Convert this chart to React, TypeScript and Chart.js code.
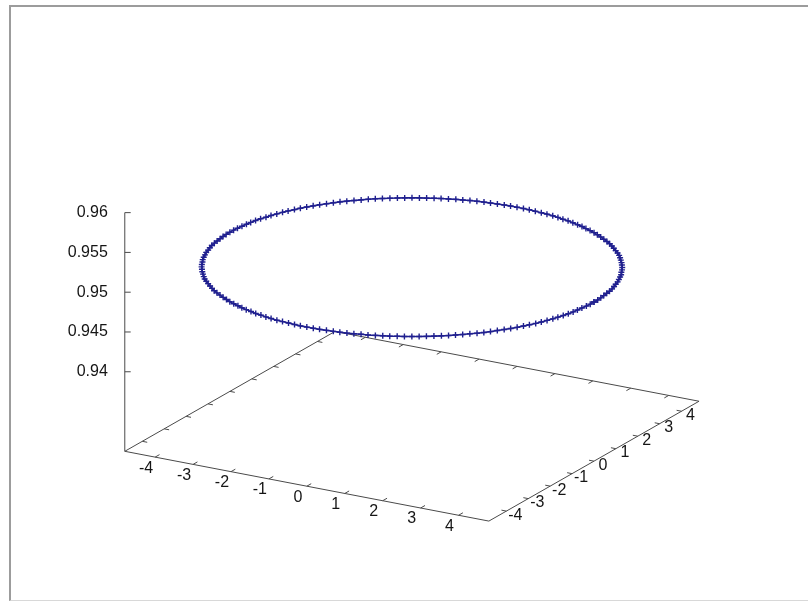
import React, { useEffect, useRef } from 'react';
import { Chart, registerables } from 'chart.js';

Chart.register(...registerables);

// ---------- data ----------
const X_TICKS = [-4, -3, -2, -1, 0, 1, 2, 3, 4];
const Y_TICKS = [-4, -3, -2, -1, 0, 1, 2, 3, 4];
const Z_TICKS = [0.94, 0.945, 0.95, 0.955, 0.96];
const Z_TICK_LABELS = ['0.94', '0.945', '0.95', '0.955', '0.96'];
const X_RANGE = [-4.8, 4.8];
const Y_RANGE = [-4.8, 4.8];
const Z_RANGE = [0.94, 0.96];
const CIRCLE_Z = 0.95;

const CIRCLE_X = [
  4.8, 4.8, 4.79, 4.77, 4.75, 4.73, 4.7, 4.66, 4.61, 4.57, 4.51, 4.45, 4.39, 4.31, 4.24, 4.16, 4.07, 3.98, 3.88, 3.78, 3.68, 3.57, 3.45, 3.33, 3.21, 3.09, 2.96, 2.82, 2.68, 2.54, 2.4, 2.25, 2.1, 1.95, 1.8, 1.64, 1.48, 1.32, 1.16, 1.0, 0.83, 0.67, 0.5, 0.33, 0.17,
  0, -0.17, -0.33, -0.5, -0.67, -0.83, -1.0, -1.16, -1.32, -1.48, -1.64, -1.8, -1.95, -2.1, -2.25, -2.4, -2.54, -2.68, -2.82, -2.96, -3.09, -3.21, -3.33, -3.45, -3.57, -3.68, -3.78, -3.88, -3.98, -4.07, -4.16, -4.24, -4.31, -4.39, -4.45, -4.51, -4.57, -4.61, -4.66, -4.7, -4.73, -4.75, -4.77, -4.79, -4.8,
  -4.8, -4.8, -4.79, -4.77, -4.75, -4.73, -4.7, -4.66, -4.61, -4.57, -4.51, -4.45, -4.39, -4.31, -4.24, -4.16, -4.07, -3.98, -3.88, -3.78, -3.68, -3.57, -3.45, -3.33, -3.21, -3.09, -2.96, -2.82, -2.68, -2.54, -2.4, -2.25, -2.1, -1.95, -1.8, -1.64, -1.48, -1.32, -1.16, -1.0, -0.83, -0.67, -0.5, -0.33, -0.17,
  0, 0.17, 0.33, 0.5, 0.67, 0.83, 1.0, 1.16, 1.32, 1.48, 1.64, 1.8, 1.95, 2.1, 2.25, 2.4, 2.54, 2.68, 2.82, 2.96, 3.09, 3.21, 3.33, 3.45, 3.57, 3.68, 3.78, 3.88, 3.98, 4.07, 4.16, 4.24, 4.31, 4.39, 4.45, 4.51, 4.57, 4.61, 4.66, 4.7, 4.73, 4.75, 4.77, 4.79, 4.8,
  4.8,
];
const CIRCLE_Y = [
  0, 0.17, 0.33, 0.5, 0.67, 0.83, 1.0, 1.16, 1.32, 1.48, 1.64, 1.8, 1.95, 2.1, 2.25, 2.4, 2.54, 2.68, 2.82, 2.96, 3.09, 3.21, 3.33, 3.45, 3.57, 3.68, 3.78, 3.88, 3.98, 4.07, 4.16, 4.24, 4.31, 4.39, 4.45, 4.51, 4.57, 4.61, 4.66, 4.7, 4.73, 4.75, 4.77, 4.79, 4.8,
  4.8, 4.8, 4.79, 4.77, 4.75, 4.73, 4.7, 4.66, 4.61, 4.57, 4.51, 4.45, 4.39, 4.31, 4.24, 4.16, 4.07, 3.98, 3.88, 3.78, 3.68, 3.57, 3.45, 3.33, 3.21, 3.09, 2.96, 2.82, 2.68, 2.54, 2.4, 2.25, 2.1, 1.95, 1.8, 1.64, 1.48, 1.32, 1.16, 1.0, 0.83, 0.67, 0.5, 0.33, 0.17,
  0, -0.17, -0.33, -0.5, -0.67, -0.83, -1.0, -1.16, -1.32, -1.48, -1.64, -1.8, -1.95, -2.1, -2.25, -2.4, -2.54, -2.68, -2.82, -2.96, -3.09, -3.21, -3.33, -3.45, -3.57, -3.68, -3.78, -3.88, -3.98, -4.07, -4.16, -4.24, -4.31, -4.39, -4.45, -4.51, -4.57, -4.61, -4.66, -4.7, -4.73, -4.75, -4.77, -4.79, -4.8,
  -4.8, -4.8, -4.79, -4.77, -4.75, -4.73, -4.7, -4.66, -4.61, -4.57, -4.51, -4.45, -4.39, -4.31, -4.24, -4.16, -4.07, -3.98, -3.88, -3.78, -3.68, -3.57, -3.45, -3.33, -3.21, -3.09, -2.96, -2.82, -2.68, -2.54, -2.4, -2.25, -2.1, -1.95, -1.8, -1.64, -1.48, -1.32, -1.16, -1.0, -0.83, -0.67, -0.5, -0.33, -0.17,
  0,
];

// ---------- view / layout ----------
const W = 808;
const H = 606;
const ORIGIN = { x: 121, y: 454 }; // screen spot of (xmin, ymin, base)
const UX = { x: 38.44, y: 7.4 }; // screen step per x unit
const UY = { x: 22.19, y: -12.71 }; // screen step per y unit
const UZ = 8100; // screen step per z unit (upwards)
const TICS_LEVEL = 0.5;
const Z_BASE = Z_RANGE[0] - TICS_LEVEL * (Z_RANGE[1] - Z_RANGE[0]);
const X_TIC_LEN = 0.2; // in y units
const Y_TIC_LEN = 0.13; // in x units
const Z_TIC_LEN = 6;

const AXIS_COLOR = '#4a4a4a';
const SERIES_COLOR = '#20208f';
const TEXT_COLOR = '#151515';
const FONT = '16px "Liberation Sans", Arial, sans-serif';

type P = { x: number; y: number | null };

function project(x: number, y: number, z: number): P {
  const dx = x - X_RANGE[0];
  const dy = y - Y_RANGE[0];
  return {
    x: ORIGIN.x + dx * UX.x + dy * UY.x,
    y: ORIGIN.y + dx * UX.y + dy * UY.y - (z - Z_BASE) * UZ,
  };
}

const GAP: P = { x: 0, y: null };

function boxData(): P[] {
  const [x0, x1] = X_RANGE;
  const [y0, y1] = Y_RANGE;
  const fl = project(x0, y0, Z_BASE);
  return [
    fl,
    project(x1, y0, Z_BASE),
    project(x1, y1, Z_BASE),
    project(x0, y1, Z_BASE),
    fl,
    GAP,
    fl,
    project(x0, y0, Z_RANGE[1]),
  ];
}

function tickData(): P[] {
  const out: P[] = [];
  const [x0, x1] = X_RANGE;
  const [y0, y1] = Y_RANGE;
  X_TICKS.forEach((v) => {
    out.push(project(v, y0, Z_BASE), project(v, y0 + X_TIC_LEN, Z_BASE), GAP);
    out.push(project(v, y1, Z_BASE), project(v, y1 - X_TIC_LEN, Z_BASE), GAP);
  });
  Y_TICKS.forEach((v) => {
    out.push(project(x1, v, Z_BASE), project(x1 - Y_TIC_LEN, v, Z_BASE), GAP);
    out.push(project(x0, v, Z_BASE), project(x0 + Y_TIC_LEN, v, Z_BASE), GAP);
  });
  Z_TICKS.forEach((v) => {
    const p = project(x0, y0, v);
    out.push(p, { x: p.x + Z_TIC_LEN, y: p.y }, GAP);
  });
  return out;
}

function circleData(): P[] {
  return CIRCLE_X.map((x, i) => project(x, CIRCLE_Y[i], CIRCLE_Z));
}

const labelPlugin = {
  id: 'axisTickLabels',
  afterDatasetsDraw(chart: any) {
    const { ctx } = chart;
    const sx = chart.scales.x;
    const sy = chart.scales.y;
    const px = (p: P) => ({ x: sx.getPixelForValue(p.x), y: sy.getPixelForValue(p.y as number) });
    ctx.save();
    ctx.font = FONT;
    ctx.fillStyle = TEXT_COLOR;
    ctx.textAlign = 'center';
    ctx.textBaseline = 'middle';
    X_TICKS.forEach((v) => {
      const p = px(project(v, Y_RANGE[0], Z_BASE));
      ctx.fillText(String(v), p.x - 9, p.y + 11);
    });
    Y_TICKS.forEach((v) => {
      const p = px(project(X_RANGE[1], v, Z_BASE));
      ctx.fillText(String(v), p.x + 9, p.y + 4);
    });
    ctx.textAlign = 'right';
    Z_TICKS.forEach((v, i) => {
      const p = px(project(X_RANGE[0], Y_RANGE[0], v));
      ctx.fillText(Z_TICK_LABELS[i], p.x - 17, p.y);
    });
    ctx.restore();
  },
};

export default function App() {
  const ref = useRef<HTMLCanvasElement | null>(null);
  useEffect(() => {
    if (!ref.current) return;
    const chart = new Chart(ref.current, {
      type: 'scatter',
      data: {
        datasets: [
          {
            label: 'circle',
            data: circleData() as any,
            showLine: true,
            borderColor: SERIES_COLOR,
            borderWidth: 1.6,
            pointStyle: 'cross',
            pointRadius: 3,
            pointBorderColor: SERIES_COLOR,
            pointBorderWidth: 1.4,
            order: 0,
          },
          {
            label: 'box',
            data: boxData() as any,
            showLine: true,
            spanGaps: false,
            borderColor: AXIS_COLOR,
            borderWidth: 1,
            pointRadius: 0,
            order: 1,
          },
          {
            label: 'ticks',
            data: tickData() as any,
            showLine: true,
            spanGaps: false,
            borderColor: AXIS_COLOR,
            borderWidth: 1,
            pointRadius: 0,
            order: 2,
          },
        ],
      },
      options: {
        responsive: false,
        animation: false,
        devicePixelRatio: 1,
        events: [],
        layout: { padding: 0 },
        plugins: { legend: { display: false }, tooltip: { enabled: false } },
        scales: {
          x: { type: 'linear', min: 0, max: W, display: false },
          y: { type: 'linear', min: 0, max: H, reverse: true, display: false },
        },
      },
      plugins: [labelPlugin],
    });
    return () => chart.destroy();
  }, []);

  return (
    <div style={{ position: 'fixed', left: 0, top: 0, width: W, height: H, background: '#fff' }}>
      <canvas ref={ref} width={W} height={H} style={{ display: 'block', position: 'absolute', left: 0, top: 0 }} />
      <div
        style={{
          position: 'absolute',
          left: 9,
          top: 5,
          width: W - 9,
          height: 596,
          borderLeft: '2px solid #9c9c9c',
          borderTop: '2px solid #9c9c9c',
          borderBottom: '1px solid #d8d8d8',
          boxSizing: 'border-box',
          pointerEvents: 'none',
        }}
      />
    </div>
  );
}
